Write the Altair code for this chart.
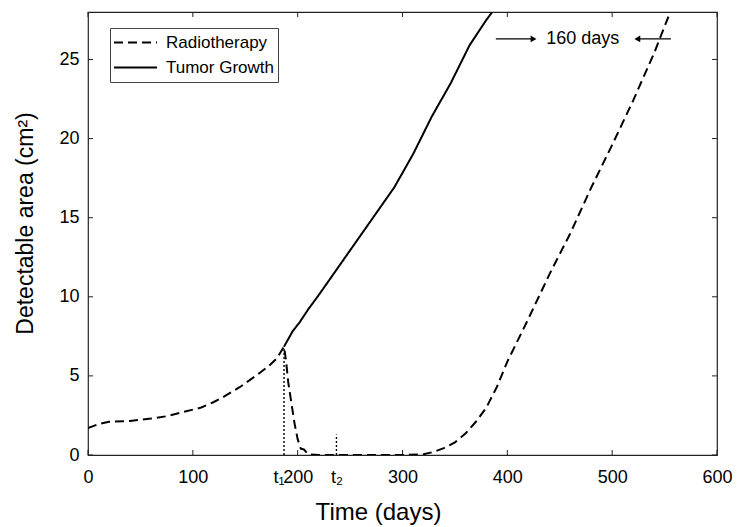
import altair as alt
import pandas as pd

FONT = "Liberation Sans"

# ---- data ----
SERIES = ["Radiotherapy", "Tumor Growth"]
T1 = 187
T2 = 237

radio_x = [0, 10, 20, 40, 60, 75, 90, 108, 120, 130, 145, 160, 172, 180, 187,
           189, 191, 194, 197, 200, 203, 206, 210, 220, 260, 300, 320, 330,
           340, 350, 360, 370, 380, 390, 400, 420, 440, 460, 480, 500, 520,
           540, 556]
radio_y = [1.7, 1.95, 2.1, 2.15, 2.3, 2.45, 2.7, 3.0, 3.35, 3.7, 4.3, 5.0, 5.6,
           6.1, 6.85, 5.9, 4.6, 3.3, 2.0, 1.0, 0.4, 0.35, 0.05, 0.0, 0.0, 0.0,
           0.05, 0.2, 0.45, 0.8, 1.35, 2.1, 3.0, 4.3, 5.9, 8.6, 11.4, 14.0,
           16.9, 19.6, 22.4, 25.4, 28.1]

growth_x = [187, 195, 202, 210, 220, 238, 256, 274, 292, 310, 328, 346, 364,
            380, 389]
growth_y = [6.85, 7.8, 8.4, 9.2, 10.1, 11.8, 13.5, 15.2, 16.9, 19.0, 21.4,
            23.5, 25.9, 27.5, 28.3]

# dotted markers at t1 and t2
mark_x = [T1, T2]
mark_top = [6.85, 1.3]

# "160 days" annotation
arrow_from = [389, 556]
arrow_to = [425, 524]
arrow_shapes = ["triangle-right", "triangle-left"]
arrow_y = 26.3
note_x = 472
note_text = "160 days"

x_ticks = [0, 100, 200, 300, 400, 500, 600]
x_label_values = [0, 100, T1, 200, T2, 300, 400, 500, 600]
y_ticks = [0, 5, 10, 15, 20, 25]

W, H = 629, 443
TICK = 5

# ---- tables ----
lines_df = pd.concat([
    pd.DataFrame({"x": radio_x, "y": radio_y, "series": SERIES[0]}),
    pd.DataFrame({"x": growth_x, "y": growth_y, "series": SERIES[1]}),
])
marks_df = pd.DataFrame({"x": mark_x, "y": [0, 0], "y2": mark_top})
arrows_df = pd.DataFrame({"x": arrow_from, "x2": arrow_to,
                          "y": [arrow_y, arrow_y]})
heads_df = pd.DataFrame({"x": arrow_to, "y": [arrow_y, arrow_y],
                         "shape": arrow_shapes})
note_df = pd.DataFrame({"x": [note_x], "y": [arrow_y], "label": [note_text]})
xt_df = pd.DataFrame({"x": x_ticks})
yt_df = pd.DataFrame({"y": y_ticks})

label_expr = (f"datum.value == {T1} ? 't\u2081' : datum.value == {T2} ? 't\u2082' : datum.label")

X_ENC = alt.X(
    "x:Q",
    scale=alt.Scale(domain=[0, 600], nice=False, zero=False),
    axis=alt.Axis(
        values=x_label_values, labelExpr=label_expr, labelOverlap=False,
        labelFontSize=18, labelPadding=13,
        labelAlign={"condition": {"test": f"datum.value == {T1}", "value": "right"},
                    "value": "center"},
        title="Time (days)", titleFontSize=24, titleX=290, titleY=64,
        titleBaseline="alphabetic", titleAlign="center",
    ),
)
Y_ENC = alt.Y(
    "y:Q",
    scale=alt.Scale(domain=[0, 28], nice=False, zero=True),
    axis=alt.Axis(
        values=y_ticks, labelFontSize=18, labelPadding=9,
        title="Detectable area (cm\u00b2)", titleFontSize=23,
        titleX=-63, titleY=211, titleBaseline="middle", titleAlign="center",
    ),
)

lines = alt.Chart(lines_df).mark_line(strokeWidth=2, clip=True).encode(
    x=X_ENC, y=Y_ENC,
    strokeDash=alt.StrokeDash(
        "series:N",
        scale=alt.Scale(domain=SERIES, range=[[9, 5], [1, 0]]),
        legend=alt.Legend(
            title=None, orient="none", legendX=22, legendY=16,
            symbolType="stroke", symbolSize=1849, symbolStrokeWidth=2,
            symbolStrokeColor="black", labelFontSize=17, labelFont=FONT,
            labelColor="black", labelOffset=8, padding=3, clipHeight=23,
            rowPadding=2, strokeColor="#444", fillColor="white",
        ),
    ),
    color=alt.value("black"),
    order="idx:Q",
).transform_window(idx="row_number()", groupby=["series"])

vlines = alt.Chart(marks_df).mark_rule(
    color="black", strokeWidth=1.4, strokeDash=[2, 2]
).encode(x=X_ENC, y=Y_ENC, y2=alt.Y2("y2:Q"))

arrows = alt.Chart(arrows_df).mark_rule(color="black", strokeWidth=1.2).encode(
    x=X_ENC, x2=alt.X2("x2:Q"), y=Y_ENC)
heads = alt.Chart(heads_df).mark_point(
    filled=True, color="black", size=45, opacity=1
).encode(x=X_ENC, y=Y_ENC, shape=alt.Shape("shape:N", scale=None))
note = alt.Chart(note_df).mark_text(
    font=FONT, fontSize=18, color="black", baseline="middle", align="center"
).encode(x=X_ENC, y=Y_ENC, text="label:N")

xt_bottom = alt.Chart(xt_df).mark_rule(color="#222").encode(
    x=X_ENC, y=alt.value(H), y2=alt.value(H - TICK))
xt_top = alt.Chart(xt_df).mark_rule(color="#222").encode(
    x=X_ENC, y=alt.value(0), y2=alt.value(TICK))
yt_left = alt.Chart(yt_df).mark_rule(color="#222").encode(
    y=Y_ENC, x=alt.value(0), x2=alt.value(TICK))
yt_right = alt.Chart(yt_df).mark_rule(color="#222").encode(
    y=Y_ENC, x=alt.value(W), x2=alt.value(W - TICK))

chart = alt.layer(
    xt_bottom, xt_top, yt_left, yt_right, vlines, lines, arrows, heads, note
).properties(
    width=W, height=H,
    autosize=alt.AutoSizeParams(type="none"),
    padding={"left": 80, "top": 4, "right": 18, "bottom": 70},
).configure_view(
    stroke="#222", strokeWidth=1.2
).configure_axis(
    grid=False, domain=False, ticks=False, tickSize=0,
    labelFont=FONT, titleFont=FONT, labelColor="black", titleColor="black",
    titleFontWeight="normal",
)

chart.save("out.html", embed_options={"renderer": "svg", "actions": False})
